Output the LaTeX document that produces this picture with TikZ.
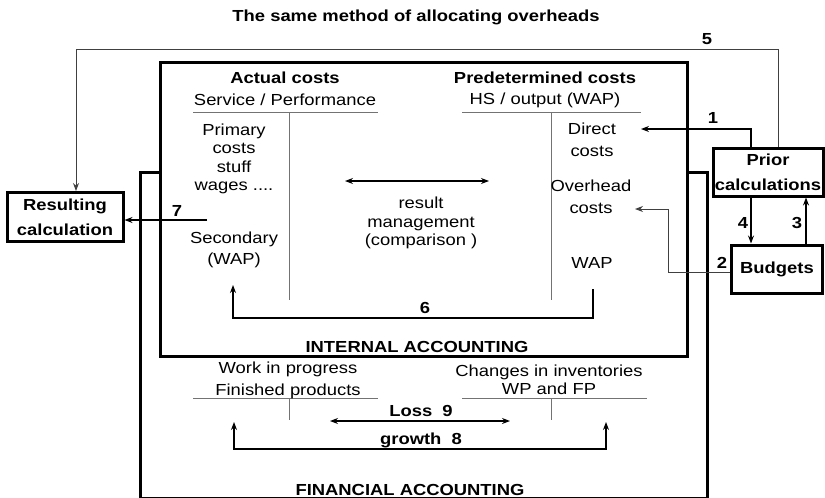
\documentclass[tikz,border=0pt]{standalone}
\usepackage{fontspec}
\setmainfont{Liberation Sans}[FakeStretch=1.15]
\usetikzlibrary{arrows.meta}

\begin{document}
\begin{tikzpicture}[x=1pt, y=-1pt, font=\fontsize{16}{18.5}\selectfont,
  >={Stealth[length=8pt,width=6pt]},
  box/.style={draw, line width=3pt, inner sep=0pt, align=center, font=\fontsize{16}{18.5}\selectfont\bfseries},
  link/.style={line width=1.2pt},
  thinlink/.style={black!75, line width=1pt},
  tline/.style={black!55, line width=1pt}]
\useasboundingbox (0,0) rectangle (825,498);
\draw [line width=3pt] (140,172) rectangle (707,498);
\draw [line width=3pt, fill=white] (160,62) rectangle (687,356);
\draw [tline] (193,112) -- (378,112) (289,112) -- (289,300);
\draw [tline] (462,112) -- (641,112) (551,112) -- (551,300);
\draw [tline] (193,398) -- (378,398) (289,398) -- (289,420);
\draw [tline] (462,398) -- (647,398) (551,398) -- (551,420);
\node (title) at (416,17) {\bfseries The same method of allocating overheads};
\node (actual) at (285,78) {\bfseries Actual costs};
\node (service) at (285,100) {Service / Performance};
\node (predet) at (545,78) {\bfseries Predetermined costs};
\node (hs) at (545,100) {HS / output (WAP)};
\node (primary) [align=center] at (234,159) {Primary\\costs\\stuff\\wages ....};
\node (secondary) [align=center] at (234,250) {Secondary\\[2.5pt](WAP)};
\node (result) [align=center] at (421,223) {result\\management\\(comparison )};
\node (direct) [align=center] at (592,140) {Direct\\[3.5pt]costs};
\node (overhead) [align=center] at (591,197) {Overhead\\[3.5pt]costs};
\node (wap) at (592,263) {WAP};
\node (internal) at (417,347) {\bfseries INTERNAL ACCOUNTING};
\node (wip) [align=center] at (288,380) {Work in progress\\[3.5pt]Finished products};
\node (changes) [align=center] at (549,380) {Changes in inventories\\WP and FP};
\node (loss) at (421,411) {\bfseries Loss~~9};
\node (growth) at (421,440) {\bfseries growth~~8};
\node (financial) at (410,490) {\bfseries FINANCIAL ACCOUNTING};
\node (res) [box, minimum width=116pt, minimum height=49pt] at (65,217) {Resulting\\[6.5pt]calculation};
\node (prior) [box, minimum width=110pt, minimum height=48pt] at (768,172) {Prior\\[6.5pt]calculations};
\node (budgets) [box, minimum width=91pt, minimum height=48pt] at (777,269) {Budgets};
\node (n1) at (713,118) {\bfseries 1};
\node (n2) at (722,263) {\bfseries 2};
\node (n3) at (797,223) {\bfseries 3};
\node (n4) at (743,223) {\bfseries 4};
\node (n5) at (707,39) {\bfseries 5};
\node (n6) at (425,308) {\bfseries 6};
\node (n7) at (177,211) {\bfseries 7};
\coordinate (c1) at (641,129);
\coordinate (c2) at (635,209);
\coordinate (p3) at ([xshift=38pt]prior.south);
\coordinate (p4) at ([xshift=-17pt]prior.south);
\coordinate (c5) at (76,49);
\coordinate (c6) at (233,285);
\coordinate (d6) at (593,289);
\coordinate (c7) at (207,220);
\coordinate (m1) at (345,181);
\coordinate (m2) at (489,181);
\coordinate (l1) at (330,421);
\coordinate (l2) at (510,421);
\coordinate (g1) at (234,422);
\coordinate (g2) at (606,422);
\draw [link, ->] ([xshift=-17pt]prior.north) |- (c1);
\draw [thinlink, ->] ([yshift=-3pt]budgets.west) -| ([xshift=33pt]c2) -- (c2);
\draw [link, ->] (p3 |- budgets.north) -- (p3);
\draw [link, ->] (p4) -- (p4 |- budgets.north);
\draw [thinlink, ->] ([xshift=10pt]prior.north) |- (c5) -- (c5 |- res.north);
\draw [link, <-] (c6) -- ++(0,33) -| (d6);
\draw [link, ->] (c7) -- (c7 -| res.east);
\draw [link, <->] (m1) -- (m2);
\draw [link, <->] (l1) -- (l2);
\draw [link, <->] (g1) -- ++(0,27) -| (g2);
\end{tikzpicture}
\end{document}
